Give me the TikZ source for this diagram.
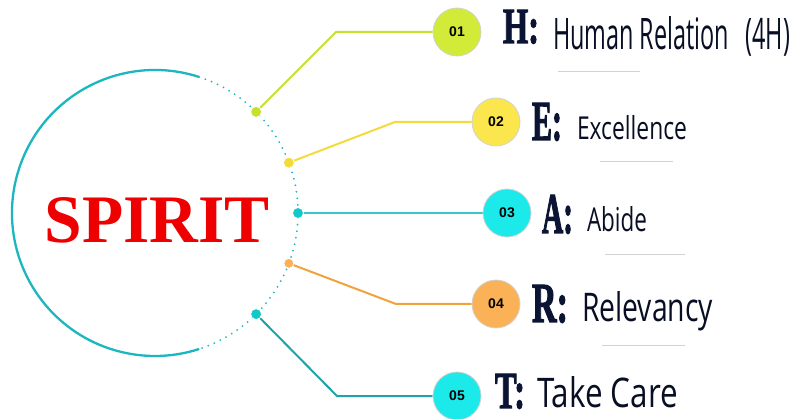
\documentclass[tikz,border=0pt]{standalone}
\usepackage{fontspec}
\usepackage{graphicx}
\setmainfont{Liberation Serif}
\newfontfamily\bigfont{Liberation Serif}[BoldFeatures={FakeBold=2.5}]
\newfontfamily\hwfont{Open Sans}
\newfontfamily\numfont{Liberation Sans}
\usetikzlibrary{calc}
\pgfdeclarelayer{bg}
\pgfsetlayers{bg,main}
\definecolor{ringc}{HTML}{1CB6BE}
\definecolor{limeC}{HTML}{D2EA38}
\definecolor{limeL}{HTML}{C6E02C}
\definecolor{yelC}{HTML}{FBE64E}
\definecolor{yelL}{HTML}{F2DC3C}
\definecolor{cyaC}{HTML}{1CEAEA}
\definecolor{cyaL}{HTML}{3CC8C8}
\definecolor{oraC}{HTML}{FBB256}
\definecolor{oraL}{HTML}{F0A23C}
\definecolor{tealL}{HTML}{1FA3A8}
\definecolor{tealD}{HTML}{14C8C8}
\definecolor{navy}{HTML}{0B1433}
\definecolor{spred}{HTML}{EE0000}
\newcommand{\fitbox}[3]{\resizebox{#1pt}{#2pt}{#3}}
\tikzset{
  ring/.style={draw=ringc, line width=2.3pt},
  ringdots/.style={draw=ringc, line width=2pt, line cap=round, dash pattern=on 0pt off 6.6pt},
  dot/.style={circle, inner sep=0, minimum size=11pt, draw=white, line width=0.8pt},
  num/.style={circle, inner sep=0, minimum size=48pt, draw=gray!35, line width=0.8pt,
     font=\numfont\bfseries\fontsize{14}{14}\selectfont, text=black},
  conn/.style={line width=2pt},
  txt/.style={anchor=base west, inner sep=0, outer sep=0},
  big/.style={txt, text=navy, font=\bigfont\bfseries},
  hand/.style={txt, text=navy!70!black, font=\hwfont},
  gline/.style={draw=gray!35, line width=1pt}
}
\begin{document}
\begin{tikzpicture}[x=1pt,y=-1pt]
\useasboundingbox (0,0) rectangle (795,419);
\coordinate (o) at (155,213);
% ring
\draw[ring] ([shift={(-72:143)}]o) arc[start angle=-72, end angle=-288, radius=143];
\draw[ringdots] ([shift={(-72:143)}]o) arc[start angle=-72, end angle=72, radius=143];
% dots
\node[dot, fill=limeL] (d1) at ([shift={(-45:143)}]o) {};
\node[dot, fill=yelL] (d2) at ([shift={(-20.6:143)}]o) {};
\node[dot, fill=tealD] (d3) at ([shift={(0:143)}]o) {};
\node[dot, fill=oraC, minimum size=10pt] (d4) at ([shift={(20.6:143)}]o) {};
\node[dot, fill=tealD] (d5) at ([shift={(45:143)}]o) {};
% corners
\coordinate (k1) at (336,32);
\coordinate (k2) at (395,122);
\coordinate (k4) at (396,304);
\coordinate (k5) at (337,396);
% number circles
\node[num, fill=limeC] (c1) at (457,32) {01};
\node[num, fill=yelC] (c2) at (496,122) {02};
\node[num, fill=cyaC] (c3) at (507,213) {03};
\node[num, fill=oraC] (c4) at (496,304) {04};
\node[num, fill=cyaC] (c5) at (457,396) {05};
% connectors
\begin{pgfonlayer}{bg}
\draw[conn, limeL] (d1.center) -- (k1) -- (c1);
\draw[conn, yelL] (d2.center) -- (k2) -- (c2);
\draw[conn, cyaL] (d3.center) -- (c3);
\draw[conn, oraL] (d4.center) -- (k4) -- (c4);
\draw[conn, tealL] (d5.center) -- (k5) -- (c5);
\end{pgfonlayer}
% SPIRIT
\node[txt, text=spred] (sp) at (45,243) {\fitbox{225}{45}{\bfseries SPIRIT}};
% big letters
\node[big] (l1) at (503,43) {\fitbox{36}{33}{H:}};
\node[big] (l2) at (532,140) {\fitbox{30}{37}{E:}};
\node[big] (l3) at (542,233) {\fitbox{31}{38}{A:}};
\node[big] (l4) at (532,322) {\fitbox{36}{37}{R:}};
\node[big] (l5) at (495,408) {\fitbox{30}{34}{T:}};
% words
\node[hand] (w1) at (553,50) {\fitbox{237}{33}{Human Relation\hspace{0.7em}(4H)}};
\node[hand] (w2) at (577,140) {\fitbox{110}{24}{Excellence}};
\node[hand] (w3) at (587,232) {\fitbox{60}{25}{Abide}};
\node[hand] (w4) at (582,322) {\fitbox{131}{30}{Relevancy}};
\node[hand] (w5) at (537,408) {\fitbox{141}{31}{Take Care}};
% faint underlines
\draw[gline] (558,72) -- (640,72);
\draw[gline] (600,162) -- (673,162);
\draw[gline] (605,255) -- (685,255);
\draw[gline] (602,346) -- (685,346);
\end{tikzpicture}
\end{document}
